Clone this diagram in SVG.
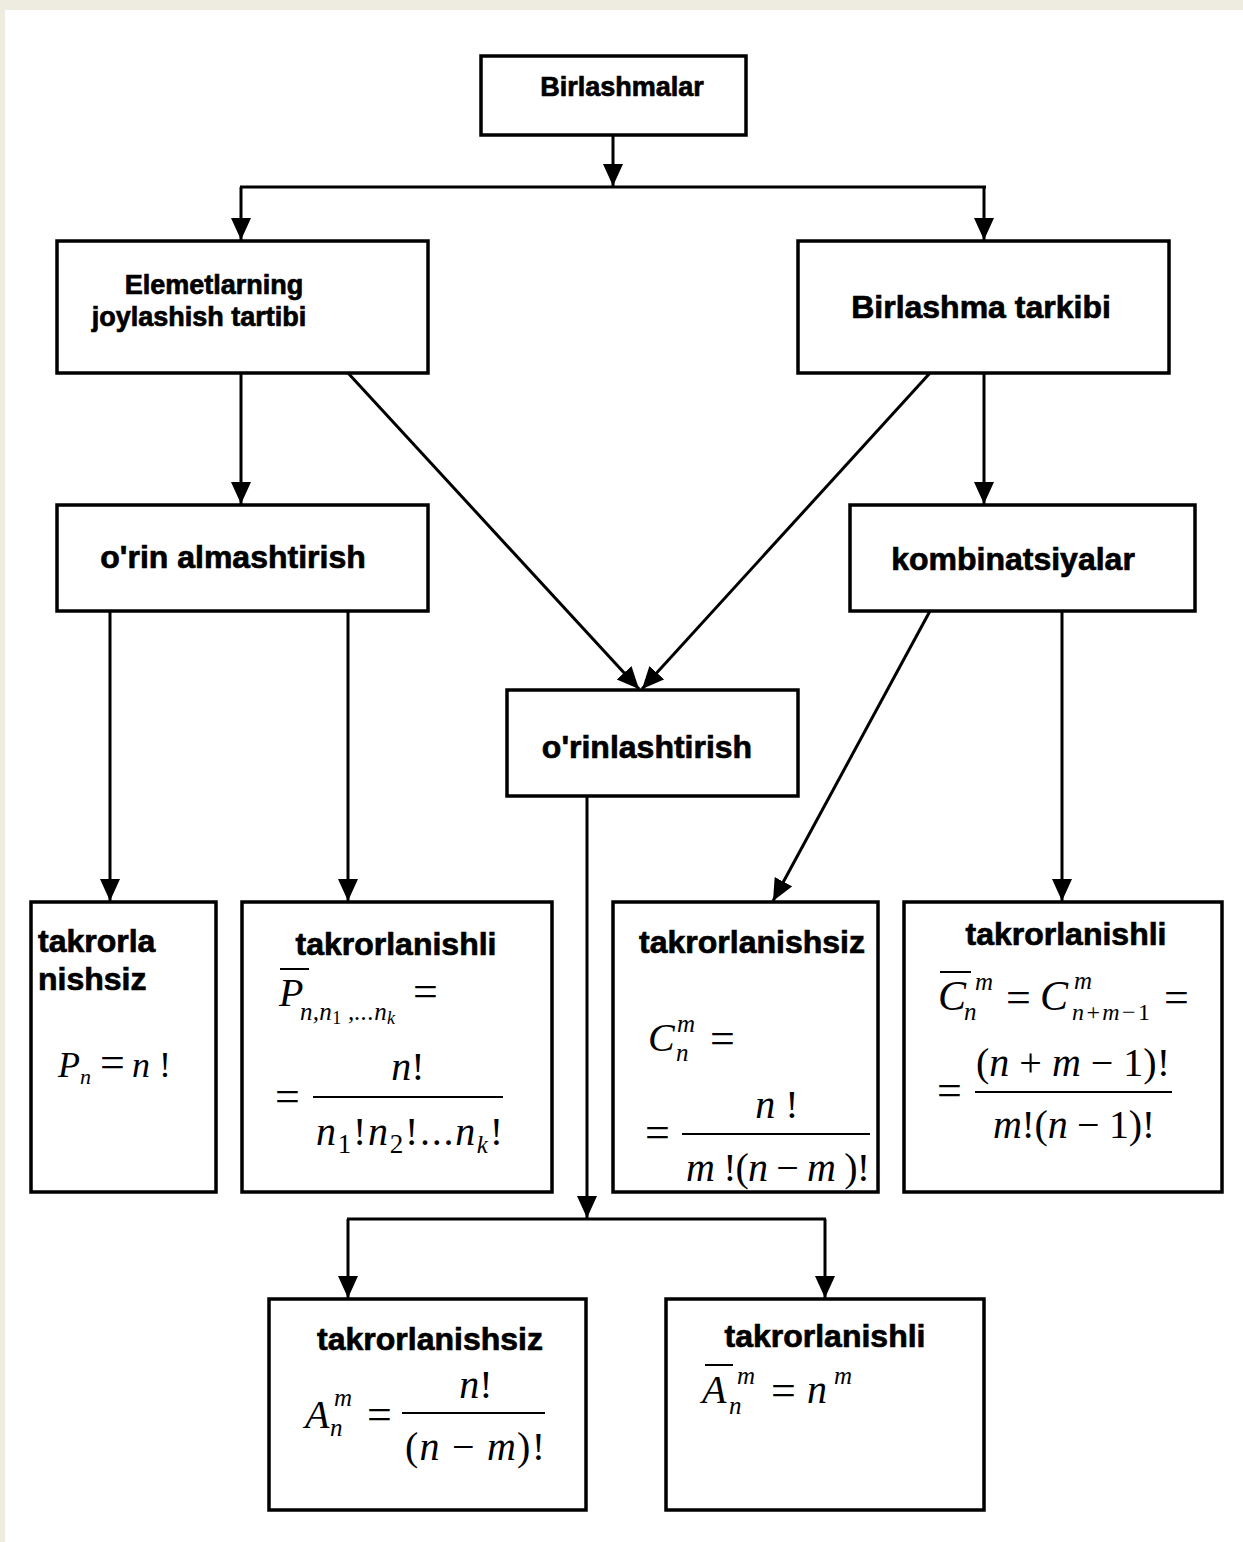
<svg xmlns="http://www.w3.org/2000/svg" width="1243" height="1542" viewBox="0 0 1243 1542">
<style>
.box{fill:#fff;stroke:#000;stroke-width:3.5}
.lbl{font-family:"Liberation Sans",Arial,sans-serif;font-weight:bold;fill:#000;stroke:#000;stroke-width:0.7}
.m{font-family:"Liberation Serif","Times New Roman",serif;font-style:italic;fill:#000}
.u{font-style:normal}
.eq{font-family:"Liberation Serif","Times New Roman",serif;font-size:44px;fill:#000}
.con{stroke:#000;stroke-width:3;fill:none}
.bar{stroke:#000;stroke-width:2}
</style>
<defs>
<marker id="ah" markerUnits="userSpaceOnUse" markerWidth="24" markerHeight="22" refX="22" refY="10" orient="auto" viewBox="0 0 24 22">
<path d="M0,0 L22,10 L0,20 z" fill="#000"/>
</marker>
</defs>
<rect x="0" y="0" width="1243" height="1542" fill="#EEEBE0"/>
<rect x="5" y="10" width="1238" height="1532" fill="#fff"/>

<g id="connectors">
<line class="con" x1="613" y1="135" x2="613" y2="186" marker-end="url(#ah)"/>
<line class="con" x1="240" y1="187" x2="986" y2="187"/>
<line class="con" x1="241" y1="187" x2="241" y2="240" marker-end="url(#ah)"/>
<line class="con" x1="984" y1="187" x2="984" y2="240" marker-end="url(#ah)"/>
<line class="con" x1="241" y1="373" x2="241" y2="504" marker-end="url(#ah)"/>
<line class="con" x1="984" y1="373" x2="984" y2="504" marker-end="url(#ah)"/>
<line class="con" x1="348" y1="373" x2="639" y2="689" marker-end="url(#ah)"/>
<line class="con" x1="930" y1="373" x2="642" y2="689" marker-end="url(#ah)"/>
<line class="con" x1="110" y1="611" x2="110" y2="901" marker-end="url(#ah)"/>
<line class="con" x1="348" y1="611" x2="348" y2="901" marker-end="url(#ah)"/>
<line class="con" x1="930" y1="611" x2="773" y2="901" marker-end="url(#ah)"/>
<line class="con" x1="1062" y1="611" x2="1062" y2="901" marker-end="url(#ah)"/>
<line class="con" x1="587" y1="796" x2="587" y2="1218" marker-end="url(#ah)"/>
<line class="con" x1="347" y1="1219" x2="826" y2="1219"/>
<line class="con" x1="348" y1="1219" x2="348" y2="1298" marker-end="url(#ah)"/>
<line class="con" x1="825" y1="1219" x2="825" y2="1298" marker-end="url(#ah)"/>
</g>

<g id="n-birlashmalar">
<rect class="box" x="481" y="56" width="265" height="79"/>
<text class="lbl" x="622" y="96" font-size="27" text-anchor="middle">Birlashmalar</text>
</g>

<g id="n-elemetlarning">
<rect class="box" x="57" y="241" width="371" height="132"/>
<text class="lbl" x="214" y="294" font-size="27" text-anchor="middle">Elemetlarning</text>
<text class="lbl" x="199" y="326" font-size="27" text-anchor="middle">joylashish tartibi</text>
</g>

<g id="n-tarkibi">
<rect class="box" x="798" y="241" width="371" height="132"/>
<text class="lbl" x="981" y="318" font-size="32" text-anchor="middle">Birlashma tarkibi</text>
</g>

<g id="n-orin-almashtirish">
<rect class="box" x="57" y="505" width="371" height="106"/>
<text class="lbl" x="233" y="568" font-size="32" text-anchor="middle">o'rin almashtirish</text>
</g>

<g id="n-kombinatsiyalar">
<rect class="box" x="850" y="505" width="345" height="106"/>
<text class="lbl" x="1013" y="570" font-size="32" text-anchor="middle">kombinatsiyalar</text>
</g>

<g id="n-orinlashtirish">
<rect class="box" x="507" y="690" width="291" height="106"/>
<text class="lbl" x="647" y="758" font-size="32" text-anchor="middle">o'rinlashtirish</text>
</g>

<g id="n-p-takrorlanishsiz">
<rect class="box" x="31" y="902" width="185" height="290"/>
<text class="lbl" x="38" y="952" font-size="32">takrorla</text>
<text class="lbl" x="38" y="990" font-size="32">nishsiz</text>
<text class="m" x="58" y="1077" font-size="36">P</text>
<text class="m" x="80" y="1084" font-size="22">n</text>
<text class="eq" x="100" y="1077" font-size="40">=</text>
<text class="m" x="132" y="1077" font-size="36">n <tspan class="u">!</tspan></text>
</g>

<g id="n-p-takrorlanishli">
<rect class="box" x="242" y="902" width="310" height="290"/>
<text class="lbl" x="396" y="955" font-size="32" text-anchor="middle">takrorlanishli</text>
<line class="bar" x1="280" y1="969" x2="309" y2="969"/>
<text class="m" x="279" y="1006" font-size="40">P</text>
<text class="m" x="300" y="1020" font-size="25" textLength="95" lengthAdjust="spacing">n,n<tspan class="u" font-size="18" dy="4">1</tspan><tspan dy="-4"> ,...n</tspan><tspan font-size="18" dy="4">k</tspan></text>
<text class="eq" x="413" y="1006">=</text>
<text class="eq" x="275" y="1111">=</text>
<line class="bar" x1="313" y1="1097" x2="503" y2="1097"/>
<text class="m" x="408" y="1080" font-size="40" text-anchor="middle">n<tspan class="u">!</tspan></text>
<text class="m" x="316" y="1145" font-size="40" textLength="187" lengthAdjust="spacing">n<tspan class="u" font-size="27" dy="8">1</tspan><tspan class="u" dy="-8">!</tspan>n<tspan class="u" font-size="27" dy="8">2</tspan><tspan class="u" dy="-8">!...</tspan>n<tspan font-size="25" dy="8">k</tspan><tspan class="u" dy="-8">!</tspan></text>
</g>

<g id="n-c-takrorlanishsiz">
<rect class="box" x="613" y="902" width="265" height="290"/>
<text class="lbl" x="752" y="953" font-size="32" text-anchor="middle">takrorlanishsiz</text>
<text class="m" x="648" y="1051" font-size="40">C</text>
<text class="m" x="677" y="1032" font-size="25">m</text>
<text class="m" x="676" y="1061" font-size="25">n</text>
<text class="eq" x="710" y="1053">=</text>
<text class="eq" x="645" y="1147">=</text>
<line class="bar" x1="682" y1="1134" x2="870" y2="1134"/>
<text class="m" x="777" y="1118" font-size="40" text-anchor="middle">n <tspan class="u">!</tspan></text>
<text class="m" x="686" y="1181" font-size="40" textLength="184" lengthAdjust="spacing">m <tspan class="u">!(</tspan>n <tspan class="u">− </tspan>m <tspan class="u">)!</tspan></text>
</g>

<g id="n-c-takrorlanishli">
<rect class="box" x="904" y="902" width="318" height="290"/>
<text class="lbl" x="1066" y="945" font-size="32" text-anchor="middle">takrorlanishli</text>
<line class="bar" x1="940" y1="972" x2="971" y2="972"/>
<text class="m" x="938" y="1010" font-size="42">C</text>
<text class="m" x="975" y="990" font-size="25">m</text>
<text class="m" x="964" y="1020" font-size="25">n</text>
<text class="eq" x="1006" y="1012">=</text>
<text class="m" x="1040" y="1010" font-size="42">C</text>
<text class="m" x="1074" y="989" font-size="25">m</text>
<text class="m" x="1072" y="1020" font-size="24" textLength="78" lengthAdjust="spacing">n<tspan class="u">+</tspan>m<tspan class="u">−1</tspan></text>
<text class="eq" x="1164" y="1012">=</text>
<text class="eq" x="937" y="1105">=</text>
<line class="bar" x1="975" y1="1092" x2="1172" y2="1092"/>
<text class="m" x="976" y="1076" font-size="40" textLength="194" lengthAdjust="spacing"><tspan class="u">(</tspan>n <tspan class="u">+ </tspan>m <tspan class="u">− 1)!</tspan></text>
<text class="m" x="993" y="1138" font-size="40" textLength="162" lengthAdjust="spacing">m<tspan class="u">!(</tspan>n <tspan class="u">− 1)!</tspan></text>
</g>

<g id="n-a-takrorlanishsiz">
<rect class="box" x="269" y="1299" width="317" height="211"/>
<text class="lbl" x="430" y="1350" font-size="32" text-anchor="middle">takrorlanishsiz</text>
<text class="m" x="305" y="1428" font-size="40">A</text>
<text class="m" x="334" y="1406" font-size="25">m</text>
<text class="m" x="330" y="1436" font-size="25">n</text>
<text class="eq" x="367" y="1429">=</text>
<line class="bar" x1="402" y1="1413" x2="545" y2="1413"/>
<text class="m" x="476" y="1398" font-size="40" text-anchor="middle">n<tspan class="u">!</tspan></text>
<text class="m" x="405" y="1460" font-size="40" textLength="140" lengthAdjust="spacing"><tspan class="u">(</tspan>n <tspan class="u">− </tspan>m<tspan class="u">)!</tspan></text>
</g>

<g id="n-a-takrorlanishli">
<rect class="box" x="666" y="1299" width="318" height="211"/>
<text class="lbl" x="825" y="1347" font-size="32" text-anchor="middle">takrorlanishli</text>
<line class="bar" x1="705" y1="1365" x2="733" y2="1365"/>
<text class="m" x="702" y="1403" font-size="40">A</text>
<text class="m" x="737" y="1384" font-size="25">m</text>
<text class="m" x="729" y="1414" font-size="25">n</text>
<text class="eq" x="771" y="1405">=</text>
<text class="m" x="807" y="1403" font-size="40">n</text>
<text class="m" x="834" y="1384" font-size="25">m</text>
</g>
</svg>
